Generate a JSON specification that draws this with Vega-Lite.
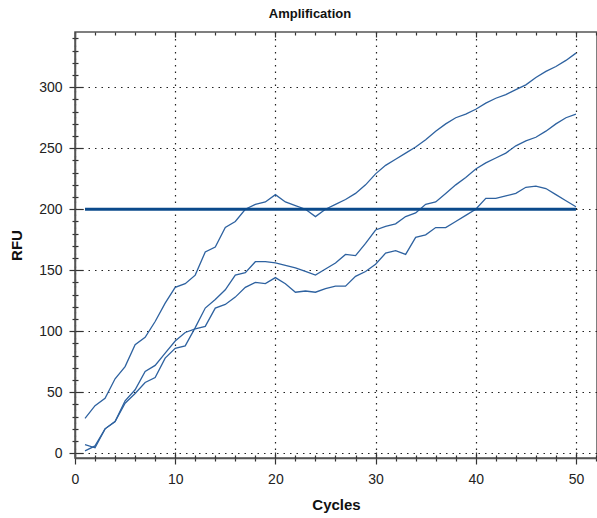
{
  "$schema": "https://vega.github.io/schema/vega-lite/v6.json",
  "width": 522,
  "height": 426,
  "autosize": {"type": "none"},
  "padding": {"left": 75, "top": 32, "right": 0, "bottom": 60},
  "background": "white",
  "title": {
    "text": "Amplification",
    "font": "Liberation Sans",
    "fontSize": 13,
    "fontWeight": "bold",
    "color": "#111",
    "anchor": "middle",
    "dx": -26,
    "offset": 10
  },
  "config": {
    "view": {"stroke": "#555", "strokeWidth": 1.5},
    "axis": {
      "labelFont": "Liberation Sans",
      "titleFont": "Liberation Sans",
      "labelColor": "#222",
      "titleColor": "#111"
    }
  },
  "datasets": {
    "curves": [
      {"series": "A", "cycle": 1, "rfu": 28.5}, {"series": "A", "cycle": 2, "rfu": 39}, {"series": "A", "cycle": 3, "rfu": 45}, {"series": "A", "cycle": 4, "rfu": 61}, {"series": "A", "cycle": 5, "rfu": 71},
      {"series": "A", "cycle": 6, "rfu": 89}, {"series": "A", "cycle": 7, "rfu": 95}, {"series": "A", "cycle": 8, "rfu": 108}, {"series": "A", "cycle": 9, "rfu": 123}, {"series": "A", "cycle": 10, "rfu": 136},
      {"series": "A", "cycle": 11, "rfu": 139}, {"series": "A", "cycle": 12, "rfu": 146}, {"series": "A", "cycle": 13, "rfu": 165}, {"series": "A", "cycle": 14, "rfu": 169}, {"series": "A", "cycle": 15, "rfu": 185},
      {"series": "A", "cycle": 16, "rfu": 190}, {"series": "A", "cycle": 17, "rfu": 200}, {"series": "A", "cycle": 18, "rfu": 204}, {"series": "A", "cycle": 19, "rfu": 206}, {"series": "A", "cycle": 20, "rfu": 212},
      {"series": "A", "cycle": 21, "rfu": 206}, {"series": "A", "cycle": 22, "rfu": 203}, {"series": "A", "cycle": 23, "rfu": 200}, {"series": "A", "cycle": 24, "rfu": 194}, {"series": "A", "cycle": 25, "rfu": 200},
      {"series": "A", "cycle": 26, "rfu": 204}, {"series": "A", "cycle": 27, "rfu": 208}, {"series": "A", "cycle": 28, "rfu": 213}, {"series": "A", "cycle": 29, "rfu": 220}, {"series": "A", "cycle": 30, "rfu": 229},
      {"series": "A", "cycle": 31, "rfu": 236}, {"series": "A", "cycle": 32, "rfu": 241}, {"series": "A", "cycle": 33, "rfu": 246}, {"series": "A", "cycle": 34, "rfu": 251}, {"series": "A", "cycle": 35, "rfu": 257},
      {"series": "A", "cycle": 36, "rfu": 264}, {"series": "A", "cycle": 37, "rfu": 270}, {"series": "A", "cycle": 38, "rfu": 275}, {"series": "A", "cycle": 39, "rfu": 278}, {"series": "A", "cycle": 40, "rfu": 282},
      {"series": "A", "cycle": 41, "rfu": 287}, {"series": "A", "cycle": 42, "rfu": 291}, {"series": "A", "cycle": 43, "rfu": 294}, {"series": "A", "cycle": 44, "rfu": 298}, {"series": "A", "cycle": 45, "rfu": 302},
      {"series": "A", "cycle": 46, "rfu": 308}, {"series": "A", "cycle": 47, "rfu": 313}, {"series": "A", "cycle": 48, "rfu": 317}, {"series": "A", "cycle": 49, "rfu": 322}, {"series": "A", "cycle": 50, "rfu": 328},

      {"series": "B", "cycle": 1, "rfu": 2}, {"series": "B", "cycle": 2, "rfu": 6}, {"series": "B", "cycle": 3, "rfu": 20}, {"series": "B", "cycle": 4, "rfu": 26}, {"series": "B", "cycle": 5, "rfu": 41},
      {"series": "B", "cycle": 6, "rfu": 49}, {"series": "B", "cycle": 7, "rfu": 58}, {"series": "B", "cycle": 8, "rfu": 62}, {"series": "B", "cycle": 9, "rfu": 78}, {"series": "B", "cycle": 10, "rfu": 86},
      {"series": "B", "cycle": 11, "rfu": 88}, {"series": "B", "cycle": 12, "rfu": 103}, {"series": "B", "cycle": 13, "rfu": 119}, {"series": "B", "cycle": 14, "rfu": 126}, {"series": "B", "cycle": 15, "rfu": 134},
      {"series": "B", "cycle": 16, "rfu": 146}, {"series": "B", "cycle": 17, "rfu": 148}, {"series": "B", "cycle": 18, "rfu": 157}, {"series": "B", "cycle": 19, "rfu": 157}, {"series": "B", "cycle": 20, "rfu": 156},
      {"series": "B", "cycle": 21, "rfu": 154}, {"series": "B", "cycle": 22, "rfu": 152}, {"series": "B", "cycle": 23, "rfu": 149}, {"series": "B", "cycle": 24, "rfu": 146}, {"series": "B", "cycle": 25, "rfu": 151},
      {"series": "B", "cycle": 26, "rfu": 156}, {"series": "B", "cycle": 27, "rfu": 163}, {"series": "B", "cycle": 28, "rfu": 162}, {"series": "B", "cycle": 29, "rfu": 172}, {"series": "B", "cycle": 30, "rfu": 183},
      {"series": "B", "cycle": 31, "rfu": 186}, {"series": "B", "cycle": 32, "rfu": 188}, {"series": "B", "cycle": 33, "rfu": 194}, {"series": "B", "cycle": 34, "rfu": 197}, {"series": "B", "cycle": 35, "rfu": 204},
      {"series": "B", "cycle": 36, "rfu": 206}, {"series": "B", "cycle": 37, "rfu": 213}, {"series": "B", "cycle": 38, "rfu": 220}, {"series": "B", "cycle": 39, "rfu": 226}, {"series": "B", "cycle": 40, "rfu": 233},
      {"series": "B", "cycle": 41, "rfu": 238}, {"series": "B", "cycle": 42, "rfu": 242}, {"series": "B", "cycle": 43, "rfu": 246}, {"series": "B", "cycle": 44, "rfu": 252}, {"series": "B", "cycle": 45, "rfu": 256},
      {"series": "B", "cycle": 46, "rfu": 259}, {"series": "B", "cycle": 47, "rfu": 264}, {"series": "B", "cycle": 48, "rfu": 270}, {"series": "B", "cycle": 49, "rfu": 275}, {"series": "B", "cycle": 50, "rfu": 278},

      {"series": "C", "cycle": 1, "rfu": 7}, {"series": "C", "cycle": 2, "rfu": 4.5}, {"series": "C", "cycle": 3, "rfu": 20}, {"series": "C", "cycle": 4, "rfu": 26}, {"series": "C", "cycle": 5, "rfu": 43},
      {"series": "C", "cycle": 6, "rfu": 52}, {"series": "C", "cycle": 7, "rfu": 67}, {"series": "C", "cycle": 8, "rfu": 72}, {"series": "C", "cycle": 9, "rfu": 82}, {"series": "C", "cycle": 10, "rfu": 92},
      {"series": "C", "cycle": 11, "rfu": 99}, {"series": "C", "cycle": 12, "rfu": 102}, {"series": "C", "cycle": 13, "rfu": 104}, {"series": "C", "cycle": 14, "rfu": 119}, {"series": "C", "cycle": 15, "rfu": 122},
      {"series": "C", "cycle": 16, "rfu": 128}, {"series": "C", "cycle": 17, "rfu": 136}, {"series": "C", "cycle": 18, "rfu": 140}, {"series": "C", "cycle": 19, "rfu": 139}, {"series": "C", "cycle": 20, "rfu": 144},
      {"series": "C", "cycle": 21, "rfu": 139}, {"series": "C", "cycle": 22, "rfu": 132}, {"series": "C", "cycle": 23, "rfu": 133}, {"series": "C", "cycle": 24, "rfu": 132}, {"series": "C", "cycle": 25, "rfu": 135},
      {"series": "C", "cycle": 26, "rfu": 137}, {"series": "C", "cycle": 27, "rfu": 137}, {"series": "C", "cycle": 28, "rfu": 145}, {"series": "C", "cycle": 29, "rfu": 149}, {"series": "C", "cycle": 30, "rfu": 155},
      {"series": "C", "cycle": 31, "rfu": 164}, {"series": "C", "cycle": 32, "rfu": 166}, {"series": "C", "cycle": 33, "rfu": 163}, {"series": "C", "cycle": 34, "rfu": 177}, {"series": "C", "cycle": 35, "rfu": 179},
      {"series": "C", "cycle": 36, "rfu": 185}, {"series": "C", "cycle": 37, "rfu": 185}, {"series": "C", "cycle": 38, "rfu": 190}, {"series": "C", "cycle": 39, "rfu": 195}, {"series": "C", "cycle": 40, "rfu": 200},
      {"series": "C", "cycle": 41, "rfu": 209}, {"series": "C", "cycle": 42, "rfu": 209}, {"series": "C", "cycle": 43, "rfu": 211}, {"series": "C", "cycle": 44, "rfu": 213}, {"series": "C", "cycle": 45, "rfu": 218},
      {"series": "C", "cycle": 46, "rfu": 219}, {"series": "C", "cycle": 47, "rfu": 217}, {"series": "C", "cycle": 48, "rfu": 212}, {"series": "C", "cycle": 49, "rfu": 207}, {"series": "C", "cycle": 50, "rfu": 202}
    ],
    "threshold": [
      {"cycle": 1, "cycle_end": 50, "rfu": 200}
    ]
  },
  "layer": [
    {
      "data": {"name": "curves"},
      "mark": {"type": "line", "color": "#2e62a0", "strokeWidth": 1.3, "clip": true},
      "encoding": {
        "x": {
          "field": "cycle", "type": "quantitative",
          "scale": {"domain": [0, 52.1], "nice": false, "zero": false},
          "axis": {
            "orient": "bottom",
            "title": "Cycles",
            "titleFontSize": 15,
            "titleFontWeight": "bold",
            "titlePadding": 11,
            "values": [0,2,4,6,8,10,12,14,16,18,20,22,24,26,28,30,32,34,36,38,40,42,44,46,48,50,52],
            "labelExpr": "datum.value % 10 === 0 ? datum.label : ''",
            "labelFontSize": 14,
            "labelPadding": 8,
            "labelFlush": false,
            "labelOverlap": false,
            "domainColor": "#555",
            "domainWidth": 1.5,
            "tickColor": "#333",
            "tickWidth": 1.2,
            "tickSize": {"condition": {"test": "datum.value % 10 === 0", "value": 6}, "value": 3},
            "grid": true,
            "gridColor": "#222",
            "gridDash": [1.5, 5],
            "gridWidth": 1.2,
            "gridOpacity": {"condition": {"test": "datum.value % 10 === 0", "value": 1}, "value": 0}
          }
        },
        "y": {
          "field": "rfu", "type": "quantitative",
          "scale": {"domain": [-3.9, 345.3], "nice": false, "zero": false},
          "axis": {
            "orient": "left",
            "title": "RFU",
            "titleFontSize": 15,
            "titleFontWeight": "bold",
            "titlePadding": 14,
            "values": [0,10,20,30,40,50,60,70,80,90,100,110,120,130,140,150,160,170,180,190,200,210,220,230,240,250,260,270,280,290,300,310,320,330,340],
            "labelExpr": "datum.value % 50 === 0 ? datum.label : ''",
            "labelFontSize": 14,
            "labelPadding": 7,
            "labelOverlap": false,
            "domainColor": "#555",
            "domainWidth": 1.5,
            "tickColor": "#333",
            "tickWidth": 1.2,
            "tickSize": {"condition": {"test": "datum.value % 50 === 0", "value": 6}, "value": 3},
            "grid": true,
            "gridColor": "#222",
            "gridDash": [1.5, 5],
            "gridWidth": 1.2,
            "gridOpacity": {"condition": {"test": "datum.value % 50 === 0", "value": 1}, "value": 0}
          }
        },
        "detail": {"field": "series", "type": "nominal"}
      }
    },
    {
      "data": {"name": "threshold"},
      "mark": {"type": "rule", "color": "#0b4a8b", "strokeWidth": 3},
      "encoding": {
        "x": {
          "field": "cycle", "type": "quantitative",
          "axis": {
            "orient": "bottom", "title": null, "labels": false, "grid": false, "domain": false,
            "values": [0,2,4,6,8,10,12,14,16,18,20,22,24,26,28,30,32,34,36,38,40,42,44,46,48,50,52],
            "tickColor": "#333", "tickWidth": 1.2,
            "tickSize": {"condition": {"test": "datum.value % 10 === 0", "value": -6}, "value": -3}
          }
        },
        "x2": {"field": "cycle_end"},
        "y": {
          "field": "rfu", "type": "quantitative",
          "axis": {
            "orient": "left", "title": null, "labels": false, "grid": false, "domain": false,
            "values": [0,10,20,30,40,50,60,70,80,90,100,110,120,130,140,150,160,170,180,190,200,210,220,230,240,250,260,270,280,290,300,310,320,330,340],
            "tickColor": "#333", "tickWidth": 1.2,
            "tickSize": {"condition": {"test": "datum.value % 50 === 0", "value": -8}, "value": -3}
          }
        }
      }
    },
    {
      "data": {"name": "threshold"},
      "mark": {"type": "rule", "opacity": 0},
      "encoding": {
        "x": {
          "field": "cycle", "type": "quantitative",
          "axis": {
            "orient": "top", "title": null, "labels": false, "grid": false, "domain": false,
            "values": [0,2,4,6,8,10,12,14,16,18,20,22,24,26,28,30,32,34,36,38,40,42,44,46,48,50,52],
            "tickColor": "#333", "tickWidth": 1.2,
            "tickSize": {"condition": {"test": "datum.value % 10 === 0", "value": -5}, "value": -3}
          }
        },
        "x2": {"field": "cycle_end"},
        "y": {"field": "rfu", "type": "quantitative", "axis": null}
      }
    }
  ],
  "resolve": {"axis": {"x": "independent", "y": "independent"}}
}
